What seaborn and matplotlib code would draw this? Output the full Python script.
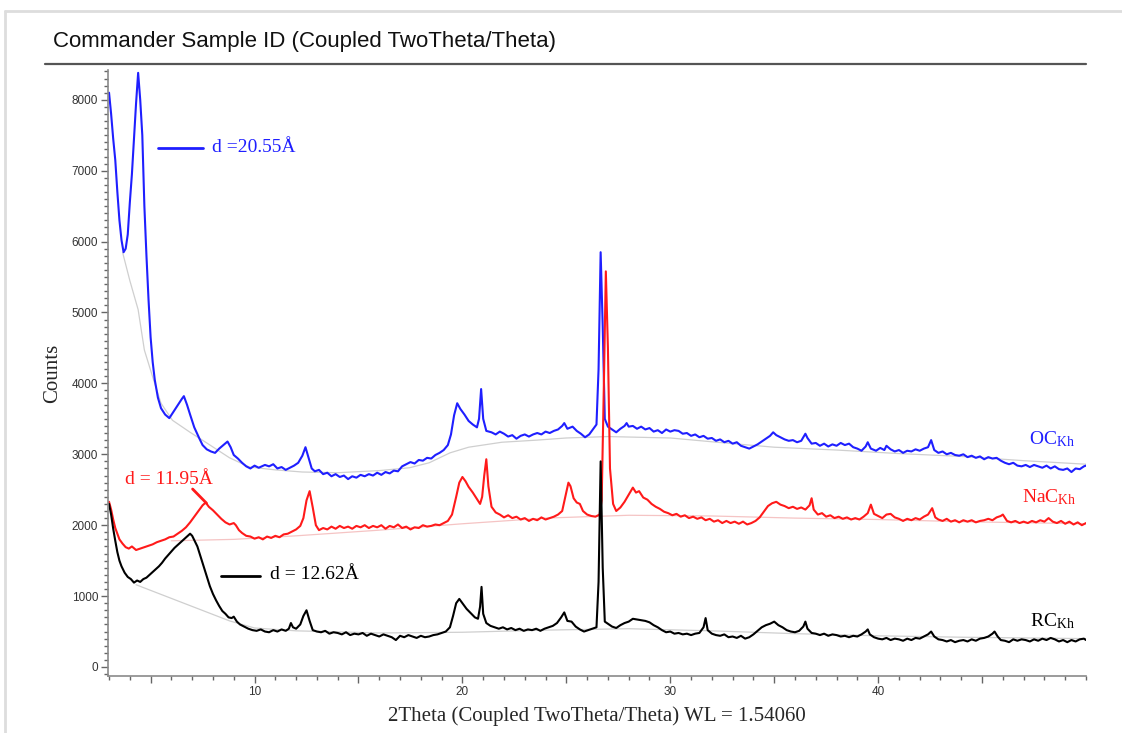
import matplotlib
matplotlib.use("Agg")
import pandas as pd
import seaborn as sns
import matplotlib.pyplot as plt
from matplotlib.lines import Line2D
from matplotlib.ticker import MultipleLocator, FixedLocator

# XRD patterns (2theta, counts)
oc_kh = [
    (3.0, 8100), (3.1, 7800), (3.2, 7450), (3.3, 7150), (3.4, 6700), (3.5, 6300),
    (3.6, 6020), (3.7, 5850), (3.8, 5900), (3.9, 6100), (4.0, 6550), (4.1, 6950),
    (4.2, 7450), (4.3, 7950), (4.4, 8380), (4.5, 8000), (4.6, 7500), (4.7, 6500),
    (4.8, 5800), (4.9, 5180), (5.0, 4650), (5.1, 4300), (5.2, 4050), (5.35, 3800),
    (5.5, 3650), (5.7, 3560), (5.9, 3510), (6.1, 3600), (6.3, 3690), (6.5, 3780),
    (6.6, 3820), (6.75, 3700), (6.9, 3560), (7.1, 3380), (7.35, 3220), (7.5, 3130),
    (7.7, 3070), (7.9, 3040), (8.1, 3020), (8.3, 3080), (8.5, 3130), (8.7, 3180),
    (8.85, 3100), (9.0, 2990), (9.2, 2940), (9.4, 2880), (9.6, 2830), (9.8, 2800),
    (10.0, 2840), (10.2, 2810), (10.5, 2850), (10.7, 2830), (10.9, 2860), (11.1, 2800),
    (11.3, 2820), (11.5, 2780), (11.7, 2810), (11.9, 2840), (12.1, 2880), (12.3, 2980),
    (12.45, 3100), (12.6, 2950), (12.75, 2800), (12.9, 2760), (13.1, 2780), (13.3, 2720),
    (13.5, 2740), (13.7, 2690), (13.9, 2720), (14.1, 2680), (14.3, 2700), (14.5, 2650),
    (14.7, 2690), (14.9, 2670), (15.1, 2710), (15.3, 2690), (15.5, 2720), (15.7, 2700),
    (15.9, 2740), (16.1, 2710), (16.3, 2750), (16.5, 2730), (16.7, 2770), (16.9, 2760),
    (17.1, 2830), (17.3, 2860), (17.5, 2890), (17.7, 2870), (17.9, 2920), (18.1, 2910),
    (18.3, 2950), (18.5, 2940), (18.7, 2990), (18.9, 3020), (19.1, 3060), (19.3, 3130),
    (19.45, 3280), (19.6, 3550), (19.75, 3720), (19.9, 3640), (20.1, 3560), (20.3, 3470),
    (20.5, 3420), (20.7, 3380), (20.8, 3500), (20.9, 3920), (21.0, 3500), (21.15, 3330),
    (21.4, 3310), (21.6, 3280), (21.8, 3320), (22.0, 3290), (22.2, 3250), (22.4, 3270),
    (22.6, 3220), (22.8, 3260), (23.0, 3280), (23.2, 3250), (23.4, 3280), (23.6, 3300),
    (23.8, 3280), (24.0, 3320), (24.2, 3300), (24.4, 3330), (24.6, 3350), (24.8, 3400),
    (24.9, 3440), (25.05, 3360), (25.3, 3390), (25.5, 3330), (25.7, 3290), (25.9, 3240),
    (26.1, 3280), (26.3, 3360), (26.45, 3420), (26.55, 4200), (26.65, 5850), (26.75, 4800),
    (26.85, 3500), (27.0, 3390), (27.2, 3350), (27.4, 3310), (27.6, 3360), (27.8, 3400),
    (27.9, 3440), (28.0, 3390), (28.2, 3400), (28.4, 3360), (28.6, 3390), (28.8, 3350),
    (29.0, 3370), (29.2, 3320), (29.4, 3340), (29.6, 3300), (29.8, 3350), (30.0, 3320),
    (30.2, 3340), (30.4, 3330), (30.6, 3290), (30.8, 3300), (31.0, 3260), (31.2, 3280),
    (31.4, 3240), (31.6, 3260), (31.8, 3220), (32.0, 3230), (32.2, 3190), (32.4, 3210),
    (32.6, 3170), (32.8, 3190), (33.0, 3150), (33.2, 3170), (33.4, 3120), (33.6, 3100),
    (33.8, 3080), (34.0, 3110), (34.2, 3140), (34.4, 3180), (34.6, 3220), (34.8, 3260),
    (34.95, 3310), (35.1, 3270), (35.3, 3240), (35.5, 3210), (35.7, 3190), (35.9, 3200),
    (36.1, 3170), (36.3, 3190), (36.5, 3290), (36.6, 3230), (36.8, 3150), (37.0, 3160),
    (37.2, 3120), (37.4, 3150), (37.6, 3110), (37.8, 3140), (38.0, 3120), (38.2, 3160),
    (38.4, 3130), (38.6, 3150), (38.8, 3100), (39.0, 3080), (39.2, 3050), (39.4, 3110),
    (39.5, 3170), (39.65, 3080), (39.9, 3050), (40.1, 3090), (40.3, 3060), (40.4, 3120),
    (40.6, 3070), (40.8, 3040), (41.0, 3060), (41.2, 3020), (41.4, 3050), (41.6, 3040),
    (41.8, 3070), (42.0, 3050), (42.2, 3080), (42.4, 3100), (42.55, 3200), (42.7, 3060),
    (42.9, 3020), (43.1, 3040), (43.3, 3000), (43.5, 3020), (43.7, 2990), (43.9, 2980),
    (44.1, 3000), (44.3, 2960), (44.5, 2980), (44.7, 2950), (44.9, 2970), (45.1, 2930),
    (45.3, 2960), (45.5, 2940), (45.7, 2950), (45.9, 2910), (46.1, 2880), (46.3, 2860),
    (46.5, 2880), (46.7, 2840), (46.9, 2830), (47.1, 2850), (47.3, 2820), (47.5, 2850),
    (47.7, 2830), (47.9, 2810), (48.1, 2840), (48.3, 2800), (48.5, 2830), (48.7, 2790),
    (48.9, 2780), (49.1, 2800), (49.3, 2750), (49.5, 2800), (49.7, 2790), (49.9, 2830),
    (50.0, 2840),
]

nac_kh = [
    (3.0, 2330), (3.1, 2220), (3.2, 2080), (3.3, 1960), (3.4, 1880), (3.5, 1800),
    (3.65, 1740), (3.8, 1690), (3.95, 1670), (4.1, 1700), (4.3, 1650), (4.5, 1670),
    (4.7, 1690), (4.9, 1710), (5.1, 1730), (5.3, 1760), (5.5, 1780), (5.7, 1800),
    (5.9, 1830), (6.1, 1840), (6.3, 1880), (6.5, 1920), (6.7, 1970), (6.9, 2040),
    (7.1, 2120), (7.3, 2200), (7.5, 2280), (7.65, 2320), (7.8, 2260), (8.0, 2210),
    (8.2, 2150), (8.4, 2090), (8.6, 2040), (8.8, 2010), (9.0, 2030), (9.1, 2000),
    (9.25, 1930), (9.4, 1890), (9.6, 1850), (9.8, 1840), (10.0, 1810), (10.2, 1830),
    (10.4, 1800), (10.6, 1840), (10.8, 1820), (11.0, 1850), (11.2, 1830), (11.4, 1870),
    (11.6, 1880), (11.8, 1910), (12.0, 1940), (12.2, 1990), (12.35, 2100), (12.5, 2350),
    (12.65, 2480), (12.8, 2250), (12.95, 2000), (13.1, 1930), (13.3, 1960), (13.5, 1940),
    (13.7, 1980), (13.9, 1950), (14.1, 1990), (14.3, 1960), (14.5, 1980), (14.7, 1950),
    (14.9, 1990), (15.1, 1970), (15.3, 2000), (15.5, 1960), (15.7, 1990), (15.9, 1970),
    (16.1, 2000), (16.3, 1950), (16.5, 1990), (16.7, 1970), (16.9, 2010), (17.1, 1960),
    (17.3, 1980), (17.5, 1940), (17.7, 1970), (17.9, 1960), (18.1, 2000), (18.3, 1980),
    (18.5, 1990), (18.7, 2010), (18.9, 2000), (19.1, 2030), (19.3, 2060), (19.5, 2150),
    (19.7, 2400), (19.85, 2600), (20.0, 2680), (20.15, 2620), (20.3, 2540), (20.5, 2460),
    (20.7, 2370), (20.85, 2300), (20.95, 2400), (21.05, 2700), (21.15, 2930), (21.25, 2550),
    (21.4, 2260), (21.6, 2180), (21.8, 2150), (22.0, 2110), (22.2, 2140), (22.4, 2100),
    (22.6, 2120), (22.8, 2080), (23.0, 2100), (23.2, 2060), (23.4, 2090), (23.6, 2070),
    (23.8, 2110), (24.0, 2080), (24.2, 2100), (24.4, 2120), (24.6, 2150), (24.8, 2200),
    (24.95, 2400), (25.1, 2600), (25.2, 2550), (25.35, 2380), (25.5, 2320), (25.65, 2300),
    (25.8, 2200), (26.0, 2150), (26.2, 2130), (26.4, 2120), (26.6, 2150), (26.7, 2350),
    (26.8, 3900), (26.9, 5580), (27.0, 4500), (27.1, 2800), (27.25, 2300), (27.4, 2200),
    (27.6, 2250), (27.8, 2330), (28.0, 2430), (28.2, 2530), (28.35, 2460), (28.5, 2480),
    (28.7, 2390), (28.9, 2360), (29.1, 2300), (29.3, 2260), (29.5, 2230), (29.7, 2190),
    (29.9, 2170), (30.1, 2140), (30.3, 2160), (30.5, 2120), (30.7, 2140), (30.9, 2100),
    (31.1, 2120), (31.3, 2090), (31.5, 2110), (31.7, 2070), (31.9, 2090), (32.1, 2050),
    (32.3, 2070), (32.5, 2030), (32.7, 2060), (32.9, 2030), (33.1, 2050), (33.3, 2020),
    (33.5, 2050), (33.7, 2010), (33.9, 2030), (34.1, 2060), (34.3, 2110), (34.5, 2190),
    (34.7, 2270), (34.9, 2310), (35.1, 2330), (35.3, 2290), (35.5, 2270), (35.7, 2240),
    (35.9, 2260), (36.1, 2230), (36.3, 2250), (36.5, 2220), (36.7, 2280), (36.8, 2380),
    (36.9, 2220), (37.1, 2150), (37.3, 2170), (37.5, 2120), (37.7, 2140), (37.9, 2100),
    (38.1, 2120), (38.3, 2090), (38.5, 2110), (38.7, 2080), (38.9, 2100), (39.1, 2080),
    (39.3, 2120), (39.5, 2170), (39.65, 2290), (39.8, 2160), (40.0, 2130), (40.2, 2100),
    (40.4, 2150), (40.6, 2160), (40.8, 2110), (41.0, 2090), (41.2, 2060), (41.4, 2090),
    (41.6, 2070), (41.8, 2100), (42.0, 2080), (42.2, 2120), (42.4, 2150), (42.6, 2240),
    (42.75, 2110), (42.9, 2080), (43.1, 2060), (43.3, 2090), (43.5, 2050), (43.7, 2070),
    (43.9, 2040), (44.1, 2070), (44.3, 2050), (44.5, 2070), (44.7, 2040), (44.9, 2060),
    (45.1, 2070), (45.3, 2090), (45.5, 2070), (45.7, 2110), (45.9, 2130), (46.0, 2150),
    (46.2, 2060), (46.4, 2040), (46.6, 2060), (46.8, 2030), (47.0, 2050), (47.2, 2030),
    (47.4, 2060), (47.6, 2040), (47.8, 2070), (48.0, 2050), (48.2, 2100), (48.4, 2050),
    (48.6, 2030), (48.8, 2060), (49.0, 2020), (49.2, 2050), (49.4, 2010), (49.6, 2040),
    (49.8, 2000), (50.0, 2030),
]

rc_kh = [
    (3.0, 2300), (3.1, 2150), (3.2, 1950), (3.3, 1780), (3.4, 1620), (3.5, 1500),
    (3.6, 1420), (3.75, 1330), (3.9, 1270), (4.05, 1240), (4.2, 1190), (4.35, 1220),
    (4.5, 1200), (4.65, 1240), (4.8, 1260), (4.95, 1300), (5.1, 1340), (5.25, 1380),
    (5.4, 1420), (5.55, 1470), (5.7, 1530), (5.85, 1580), (6.0, 1630), (6.15, 1680),
    (6.3, 1720), (6.45, 1760), (6.6, 1800), (6.75, 1840), (6.9, 1880), (7.0, 1850),
    (7.1, 1790), (7.25, 1700), (7.4, 1560), (7.55, 1420), (7.7, 1280), (7.85, 1140),
    (8.0, 1030), (8.15, 940), (8.3, 860), (8.45, 790), (8.6, 750), (8.75, 700),
    (8.9, 690), (9.0, 710), (9.15, 640), (9.3, 600), (9.5, 570), (9.7, 540),
    (9.9, 520), (10.1, 510), (10.3, 530), (10.5, 500), (10.7, 490), (10.9, 520),
    (11.1, 500), (11.3, 530), (11.5, 510), (11.65, 540), (11.75, 620), (11.85, 560),
    (12.0, 540), (12.2, 600), (12.35, 720), (12.5, 800), (12.65, 650), (12.8, 520),
    (13.0, 500), (13.2, 490), (13.4, 510), (13.6, 470), (13.8, 490), (14.0, 480),
    (14.2, 460), (14.4, 490), (14.6, 450), (14.8, 470), (15.0, 460), (15.2, 480),
    (15.4, 440), (15.6, 470), (15.8, 450), (16.0, 430), (16.2, 460), (16.4, 440),
    (16.6, 420), (16.8, 380), (17.0, 440), (17.2, 420), (17.4, 450), (17.6, 430),
    (17.8, 410), (18.0, 440), (18.2, 420), (18.4, 430), (18.6, 450), (18.8, 460),
    (19.0, 480), (19.2, 500), (19.4, 560), (19.55, 720), (19.7, 900), (19.85, 960),
    (20.0, 900), (20.2, 820), (20.4, 760), (20.6, 700), (20.75, 680), (20.85, 850),
    (20.92, 1130), (21.0, 750), (21.15, 620), (21.35, 580), (21.55, 560), (21.75, 540),
    (21.95, 560), (22.15, 530), (22.35, 550), (22.55, 520), (22.75, 540), (22.95, 510),
    (23.15, 530), (23.35, 520), (23.55, 540), (23.75, 510), (23.95, 540), (24.15, 560),
    (24.35, 580), (24.55, 620), (24.75, 700), (24.9, 770), (25.05, 650), (25.25, 640),
    (25.45, 570), (25.65, 530), (25.85, 500), (26.05, 520), (26.25, 540), (26.45, 560),
    (26.55, 1200), (26.65, 2900), (26.75, 1400), (26.85, 640), (27.0, 610), (27.2, 570),
    (27.4, 550), (27.6, 590), (27.8, 620), (28.0, 640), (28.2, 680), (28.4, 670),
    (28.6, 660), (28.8, 650), (29.0, 630), (29.2, 590), (29.4, 560), (29.6, 520),
    (29.8, 490), (30.0, 500), (30.2, 470), (30.4, 480), (30.6, 460), (30.8, 470),
    (31.0, 450), (31.2, 470), (31.4, 480), (31.6, 560), (31.7, 690), (31.8, 520),
    (32.0, 470), (32.2, 450), (32.4, 440), (32.6, 460), (32.8, 420), (33.0, 430),
    (33.2, 410), (33.4, 440), (33.6, 400), (33.8, 420), (34.0, 460), (34.2, 510),
    (34.4, 560), (34.6, 590), (34.8, 610), (35.0, 640), (35.2, 590), (35.4, 560),
    (35.6, 520), (35.8, 500), (36.0, 490), (36.2, 510), (36.4, 570), (36.5, 640),
    (36.6, 540), (36.8, 480), (37.0, 470), (37.2, 450), (37.4, 470), (37.6, 440),
    (37.8, 460), (38.0, 450), (38.2, 430), (38.4, 440), (38.6, 420), (38.8, 440),
    (39.0, 430), (39.2, 460), (39.4, 500), (39.5, 530), (39.6, 460), (39.8, 420),
    (40.0, 400), (40.2, 390), (40.4, 410), (40.6, 380), (40.8, 400), (41.0, 390),
    (41.2, 370), (41.4, 400), (41.6, 380), (41.8, 410), (42.0, 400), (42.2, 430),
    (42.4, 460), (42.55, 500), (42.7, 430), (42.9, 390), (43.1, 380), (43.3, 360),
    (43.5, 380), (43.7, 350), (43.9, 370), (44.1, 380), (44.3, 360), (44.5, 390),
    (44.7, 370), (44.9, 400), (45.1, 410), (45.3, 430), (45.5, 470), (45.6, 500),
    (45.75, 430), (45.9, 380), (46.1, 370), (46.3, 350), (46.5, 390), (46.7, 370),
    (46.9, 390), (47.1, 380), (47.3, 360), (47.5, 390), (47.7, 370), (47.9, 400),
    (48.1, 380), (48.3, 410), (48.5, 390), (48.7, 360), (48.9, 380), (49.1, 350),
    (49.3, 380), (49.5, 360), (49.7, 390), (49.9, 400), (50.0, 380),
]

# fitted backgrounds (light gray curves under each pattern)
oc_background = [
    (3.65, 5850), (4.0, 5450), (4.4, 5040), (4.7, 4470), (5.1, 4090), (5.5, 3720),
    (6.05, 3480), (6.9, 3310), (7.7, 3160), (8.8, 2950), (9.75, 2820), (11.0, 2780),
    (12.3, 2750), (14.0, 2740), (16.0, 2770), (17.45, 2810), (18.4, 2880), (19.4, 3020),
    (20.3, 3100), (21.9, 3170), (23.6, 3200), (25.0, 3230), (27.0, 3250), (30.0, 3230),
    (33.0, 3150), (35.0, 3100), (38.0, 3060), (41.0, 3010), (44.0, 2970), (47.0, 2910),
    (50.0, 2860),
]
nac_background = [
    (6.0, 1780), (9.0, 1800), (12.0, 1850), (16.0, 1930), (20.0, 2020), (24.0, 2100),
    (28.0, 2140), (32.0, 2130), (36.0, 2100), (40.0, 2080), (44.0, 2050), (48.0, 2030),
    (50.0, 2020),
]
rc_background = [
    (4.3, 1160), (8.8, 650), (10.0, 550), (12.0, 510), (16.0, 480), (20.0, 490),
    (24.0, 520), (28.0, 540), (32.0, 510), (36.0, 470), (40.0, 440), (44.0, 420),
    (50.0, 400),
]

series_labels = ["OC$_{\\mathrm{Kh}}$", "NaC$_{\\mathrm{Kh}}$", "RC$_{\\mathrm{Kh}}$"]
series_colors = ["#1f1fff", "#ff1a1a", "#000000"]
label_pos = [(47.25, 3220), (46.9, 2400), (47.3, 650)]

sns.set_style("ticks")
plt.rcParams["font.family"] = ["Liberation Sans", "DejaVu Sans"]
plt.rcParams["mathtext.fontset"] = "custom"
plt.rcParams["mathtext.rm"] = "Liberation Serif"
plt.rcParams["mathtext.it"] = "Liberation Serif:italic"

fig = plt.figure(figsize=(11.22, 7.33), dpi=100)
ax = fig.add_axes([108 / 1122, 1 - 676 / 733, (1086 - 108) / 1122, (676 - 70) / 733])

for bg, col in zip([oc_background, nac_background, rc_background],
                   ["#cfcfcf", "#f5c4c4", "#cfcfcf"]):
    d = pd.DataFrame(bg, columns=["x", "y"])
    sns.lineplot(data=d, x="x", y="y", ax=ax, color=col, lw=0.9,
                 estimator=None, sort=False)

for pts, col in zip([oc_kh, nac_kh, rc_kh], series_colors):
    d = pd.DataFrame(pts, columns=["x", "y"])
    sns.lineplot(data=d, x="x", y="y", ax=ax, color=col, lw=1.5,
                 estimator=None, sort=False)

for lab, col, (lx, ly) in zip(series_labels, series_colors, label_pos):
    ax.text(lx, ly, lab, color=col, fontsize=14, family="Liberation Serif",
            va="center", ha="left")

# d-spacing annotations
serif = "Liberation Serif"
ax.plot([5.34, 7.5], [7320, 7320], color="#1f1fff", lw=2)
ax.text(7.93, 7320, "d =20.55Å", color="#1f1fff", fontsize=14, family=serif, va="center")
ax.plot([7.02, 7.69], [2510, 2310], color="#ff1a1a", lw=2)
ax.text(3.75, 2650, "d = 11.95Å", color="#ff1a1a", fontsize=14, family=serif, va="center")
ax.plot([8.41, 10.24], [1280, 1280], color="black", lw=2)
ax.text(10.72, 1300, "d = 12.62Å", color="black", fontsize=14, family=serif, va="center")

ax.set_xlim(2.95, 50)
ax.set_ylim(-127, 8420)
ax.xaxis.set_major_locator(FixedLocator([5, 10, 15, 20, 25, 30, 35, 40, 45]))
ax.set_xticklabels(["", "10", "", "20", "", "30", "", "40", ""])
ax.xaxis.set_minor_locator(MultipleLocator(1))
ax.yaxis.set_major_locator(MultipleLocator(1000))
ax.yaxis.set_minor_locator(MultipleLocator(100))
ax.tick_params(axis="both", which="major", length=5, width=1, color="#666666",
               labelsize=8.5, labelcolor="#333333", pad=2)
ax.tick_params(axis="both", which="minor", length=3, width=1, color="#666666")
for side in ["top", "right"]:
    ax.spines[side].set_visible(False)
for side in ["left", "bottom"]:
    ax.spines[side].set_color("#8a8a8a")
    ax.spines[side].set_linewidth(1.2)

ax.set_xlabel("2Theta (Coupled TwoTheta/Theta) WL = 1.54060", family=serif,
              fontsize=15, labelpad=6)
ax.set_ylabel("Counts", family=serif, fontsize=15, labelpad=7)

# title block and window frame
fig.text(53 / 1122, 1 - 42 / 733, "Commander Sample ID (Coupled TwoTheta/Theta)",
         fontsize=16, color="#111111", va="center", ha="left")
fig.add_artist(Line2D([45 / 1122, 1086 / 1122], [1 - 64 / 733, 1 - 64 / 733],
                      transform=fig.transFigure, color="#555555", lw=1.6))
fig.add_artist(Line2D([5 / 1122, 1.0], [1 - 11 / 733, 1 - 11 / 733],
                      transform=fig.transFigure, color="#dddddd", lw=2))
fig.add_artist(Line2D([5 / 1122, 5 / 1122], [0, 1 - 11 / 733],
                      transform=fig.transFigure, color="#dddddd", lw=2))

fig.savefig("out.png", dpi=100)
